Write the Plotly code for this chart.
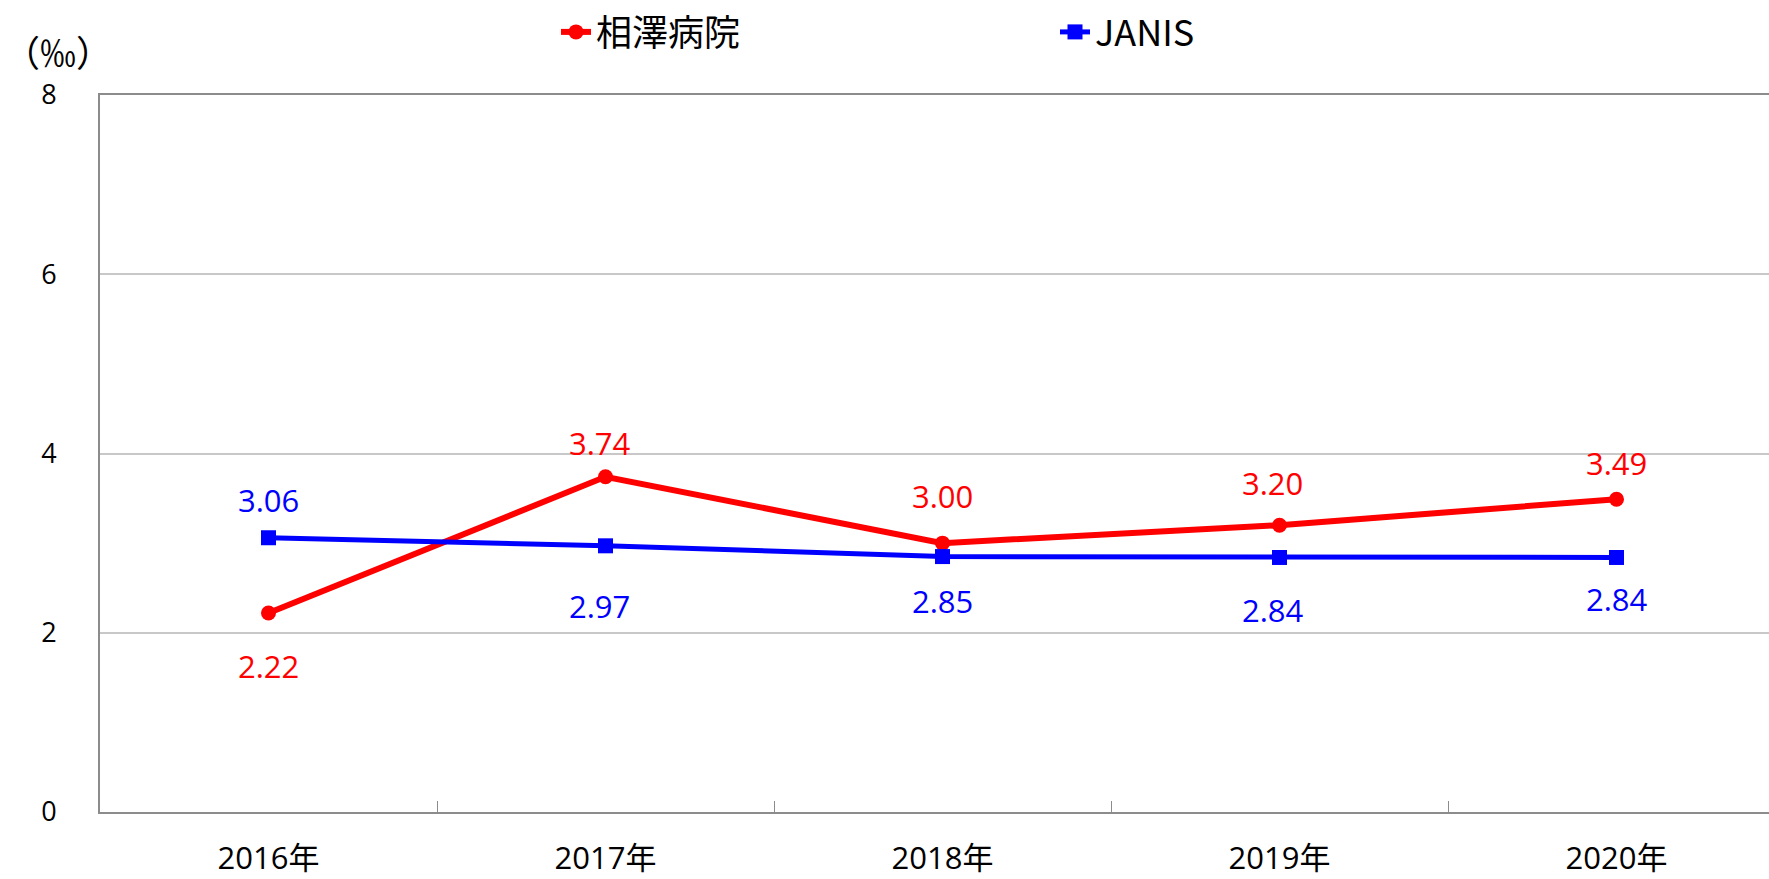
import plotly.graph_objects as go

categories = ["2016年", "2017年", "2018年", "2019年", "2020年"]
aizawa = [2.22, 3.74, 3.00, 3.20, 3.49]
janis = [3.06, 2.97, 2.85, 2.84, 2.84]
series_names = ["相澤病院", "JANIS"]
y_ticks = [0, 2, 4, 6, 8]

# label offsets (pixels)
aizawa_yshift = [-53, 34, 47, 42, 36]
janis_yshift = [38, -60, -44, -53, -42]
label_xshift = [0, -6, 0, -7, 0]

RED = "#FF0000"
BLUE = "#0000FF"
NUM_FONT = "Open Sans, Noto Sans CJK JP"
CJK_FONT = "Noto Sans CJK JP"

fig = go.Figure()
fig.add_trace(go.Scatter(
    x=categories, y=aizawa, name=series_names[0], mode="lines+markers",
    line=dict(color=RED, width=6), marker=dict(symbol="circle", size=15, color=RED),
))
fig.add_trace(go.Scatter(
    x=categories, y=janis, name=series_names[1], mode="lines+markers",
    line=dict(color=BLUE, width=5), marker=dict(symbol="square", size=15, color=BLUE),
))

for vals, shifts, col in [(aizawa, aizawa_yshift, RED), (janis, janis_yshift, BLUE)]:
    for c, v, s, xs in zip(categories, vals, shifts, label_xshift):
        fig.add_annotation(x=c, y=v, text=f"{v:.2f}", showarrow=False,
                           yshift=s, xshift=xs,
                           font=dict(family=NUM_FONT, size=31, color=col))

W, H = 1769, 879
L, T, B = 100, 95, 67

fig.add_annotation(xref="paper", yref="paper", x=0, y=1.0, xshift=-L + 2, yshift=44,
                   text="（‰）", showarrow=False, xanchor="left", yanchor="middle",
                   font=dict(family=CJK_FONT, size=36, color="#000000"))

fig.update_layout(
    width=W, height=H,
    margin=dict(l=L, r=0, t=T, b=B, autoexpand=False),
    plot_bgcolor="white", paper_bgcolor="white",
    showlegend=True,
    legend=dict(orientation="h", xref="container", yref="container",
                x=(556) / W, y=1 - 2 / H, xanchor="left", yanchor="top",
                font=dict(family=CJK_FONT, size=36, color="#000000"),
                entrywidth=454, entrywidthmode="pixels",
                bgcolor="rgba(0,0,0,0)", itemclick=False),
    xaxis=dict(type="category", range=[-0.5, -0.5 + (W - L) / 337.0],
               automargin=False,
               showgrid=False, showline=True, linecolor="#8c8c8c", linewidth=2,
               mirror=True, ticks="inside", tickson="boundaries", ticklen=11,
               tickcolor="#8c8c8c", tickwidth=1,
               ticklabelstandoff=18,
               tickfont=dict(family=NUM_FONT, size=31, color="#000000")),
    yaxis=dict(range=[0, 8], tickvals=y_ticks, showgrid=True, gridcolor="#c8c8c8",
               automargin=False,
               gridwidth=2, showline=True, linecolor="#8c8c8c", linewidth=2,
               zeroline=False, ticks="", ticklabelstandoff=36,
               tickfont=dict(family=NUM_FONT, size=27, color="#000000")),
)

fig.write_html("out.html", config={"displayModeBar": False},
               post_script="document.body.style.margin='0';document.body.style.padding='0';")
